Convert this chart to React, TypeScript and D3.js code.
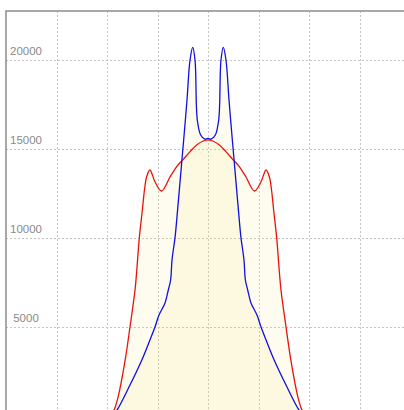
import React, { useRef, useEffect } from 'react';
import * as d3 from 'd3';

// x positions are in grid units (centre of the chart = 0)
const redX = [-4, -1.95, -1.86, -1.78, -1.64, -1.545, -1.445, -1.41, -1.36, -1.3, -1.28, -1.25, -1.215, -1.15, -1.05, -0.92, -0.75, -0.62, -0.49, -0.355, -0.225, -0.095, 0,
  0.095, 0.225, 0.355, 0.49, 0.62, 0.75, 0.92, 1.05, 1.15, 1.215, 1.25, 1.28, 1.3, 1.36, 1.41, 1.445, 1.545, 1.64, 1.78, 1.86, 1.95, 4];
const redY = [0, 0, 340, 1070, 3150, 5000, 7080, 8200, 10020, 11570, 12140, 12880, 13440, 13820, 13160, 12640, 13440, 14010, 14420, 14850, 15230, 15450, 15510,
  15450, 15230, 14850, 14420, 14010, 13440, 12640, 13160, 13820, 13440, 12880, 12140, 11570, 10020, 8200, 7080, 5000, 3150, 1070, 340, 0, 0];

const blueX = [-4, -1.9, -1.8, -1.545, -1.31, -1.15, -1.05, -0.97, -0.851, -0.786, -0.74, -0.713, -0.653, -0.594, -0.525, -0.465, -0.416, -0.356, -0.303, -0.257, -0.212, -0.145, -0.06, 0,
  0.06, 0.145, 0.212, 0.257, 0.303, 0.356, 0.416, 0.465, 0.525, 0.594, 0.653, 0.713, 0.74, 0.786, 0.851, 0.97, 1.05, 1.15, 1.31, 1.545, 1.8, 1.9, 4];
const blueY = [0, 0, 340, 1740, 3150, 4270, 5000, 5670, 6350, 7080, 7640, 8760, 10020, 11850, 14100, 16070, 17750, 20000, 20710, 20000, 16630, 15790, 15550, 15600,
  15550, 15790, 16630, 20000, 20710, 20000, 17750, 16070, 14100, 11850, 10020, 8760, 7640, 7080, 6350, 5670, 5000, 4270, 3150, 1740, 340, 0, 0];

const yTicks = [5000, 10000, 15000, 20000];
const xTicks = [-3, -2, -1, 0, 1, 2, 3];

const W = 404;
const H = 410;

export default function App() {
  const ref = useRef<SVGSVGElement>(null);

  useEffect(() => {
    if (!ref.current) return;
    const svg = d3.select(ref.current);
    svg.selectAll('*').remove();

    const left = 6, top = 11, right = 410, bottom = 416;
    const x = d3.scaleLinear().domain([-4, 4]).range([left, right]);
    const y = d3.scaleLinear().domain([0, 22753]).range([bottom, top]);

    const red = redX.map((d, i) => ({ x: d, v: redY[i] }));
    const blue = blueX.map((d, i) => ({ x: d, v: blueY[i] }));

    // grid
    const grid = svg.append('g').attr('stroke', '#c4c4c4').attr('stroke-dasharray', '2,2').attr('stroke-width', 1);
    grid.selectAll('line.v')
      .data(xTicks)
      .enter()
      .append('line')
      .attr('x1', d => Math.round(x(d)) + 0.5)
      .attr('x2', d => Math.round(x(d)) + 0.5)
      .attr('y1', top)
      .attr('y2', H);
    grid.selectAll('line.h')
      .data(yTicks)
      .enter()
      .append('line')
      .attr('x1', left)
      .attr('x2', W)
      .attr('y1', d => Math.round(y(d)) + 0.5)
      .attr('y2', d => Math.round(y(d)) + 0.5);

    const curve = d3.curveCatmullRom.alpha(0.5);

    const area = d3.area<{ x: number; v: number }>()
      .x(d => x(d.x))
      .y0(y(0))
      .y1(d => y(d.v))
      .curve(curve);

    const line = d3.line<{ x: number; v: number }>()
      .x(d => x(d.x))
      .y(d => y(d.v))
      .curve(curve);

    [red, blue].forEach(s => {
      svg.append('path')
        .datum(s)
        .attr('fill', 'rgb(250,230,100)')
        .attr('fill-opacity', 0.1)
        .attr('d', area);
    });

    svg.append('path')
      .datum(red)
      .attr('fill', 'none')
      .attr('stroke', '#e8120c')
      .attr('stroke-width', 1.3)
      .attr('d', line);

    svg.append('path')
      .datum(blue)
      .attr('fill', 'none')
      .attr('stroke', '#1010e0')
      .attr('stroke-width', 1.3)
      .attr('d', line);

    // y labels sit just above their grid line
    svg.append('g')
      .selectAll('text')
      .data(yTicks)
      .enter()
      .append('text')
      .attr('x', 26)
      .attr('y', d => y(d) - 5)
      .attr('text-anchor', 'middle')
      .attr('font-family', '"Liberation Sans", Arial, sans-serif')
      .attr('font-size', 11.5)
      .attr('fill', '#8a8a8a')
      .text(d => String(d));

    // frame (top and left visible)
    svg.append('path')
      .attr('d', `M${left},${H}V${top}H${W}`)
      .attr('fill', 'none')
      .attr('stroke', '#8c8c8c')
      .attr('stroke-width', 1.5);
  }, []);

  return (
    <svg
      ref={ref}
      width={W}
      height={H}
      style={{ position: 'absolute', left: 0, top: 0, background: '#fff', overflow: 'hidden' }}
    />
  );
}
